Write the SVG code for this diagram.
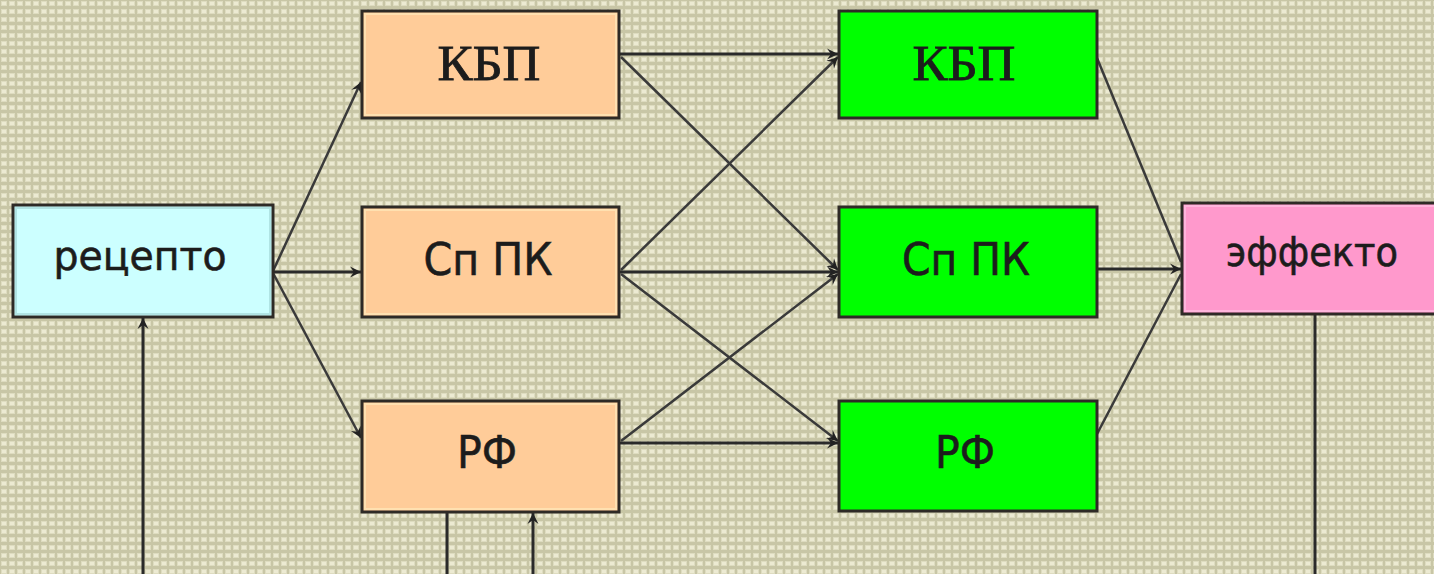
<svg xmlns="http://www.w3.org/2000/svg" width="1434" height="574" viewBox="0 0 1434 574">
<defs>
<pattern id="bg" width="8" height="8" patternUnits="userSpaceOnUse">
<rect width="8" height="8" fill="#c8c6a6"/>
<rect x="1" y="1" width="6" height="5" fill="#dedcc0"/>
<rect x="2" y="2" width="4" height="3" fill="#ecead2"/>
</pattern>
<marker id="arr" markerUnits="userSpaceOnUse" markerWidth="14" markerHeight="14" refX="12" refY="7" orient="auto">
<path d="M1,1.5 L12,7 L1,12.5 L5,7 Z" fill="#222"/>
</marker>
<style>
.box{stroke:#2e2a26;stroke-width:3}
.in{fill:none;stroke-width:2}
.ln{stroke:#2a2a2a;stroke-width:3;fill:none}
.dg{stroke:#3a3a3a;stroke-width:2.5;fill:none}
.sans{font-family:"DejaVu Sans","Liberation Sans",sans-serif;fill:#1c1c1c;stroke:#1c1c1c;stroke-width:0.6}
.serif{font-family:"Liberation Serif","DejaVu Serif",serif;fill:#1c1c1c;stroke:#1c1c1c;stroke-width:0.8}
</style>
</defs>
<rect width="1434" height="574" fill="url(#bg)"/>

<g id="connectors">
<line class="dg" x1="273" y1="271" x2="361" y2="82" marker-end="url(#arr)"/>
<line class="ln" x1="273" y1="272" x2="361" y2="272" marker-end="url(#arr)"/>
<line class="dg" x1="273" y1="273" x2="361" y2="438" marker-end="url(#arr)"/>

<line class="ln" x1="620" y1="54" x2="838" y2="54" marker-end="url(#arr)"/>
<line class="dg" x1="621" y1="57" x2="838" y2="270" marker-end="url(#arr)"/>
<line class="dg" x1="621" y1="270" x2="838" y2="57" marker-end="url(#arr)"/>
<line class="ln" x1="620" y1="272" x2="838" y2="272" marker-end="url(#arr)"/>
<line class="dg" x1="621" y1="274" x2="838" y2="441" marker-end="url(#arr)"/>
<line class="dg" x1="621" y1="441" x2="838" y2="274" marker-end="url(#arr)"/>
<line class="ln" x1="620" y1="443" x2="838" y2="443" marker-end="url(#arr)"/>

<line class="dg" x1="1097" y1="58" x2="1181" y2="262"/>
<line class="ln" x1="1097" y1="269" x2="1181" y2="269" marker-end="url(#arr)"/>
<line class="dg" x1="1097" y1="434" x2="1181" y2="274"/>

<line class="ln" x1="1315" y1="313" x2="1315" y2="574"/>
<line class="ln" x1="143" y1="574" x2="143" y2="318" marker-end="url(#arr)"/>
<line class="ln" x1="447" y1="512" x2="447" y2="574"/>
<line class="ln" x1="533" y1="574" x2="533" y2="513" marker-end="url(#arr)"/>
</g>

<g id="receptor">
<rect class="box" x="13" y="205" width="260" height="112" fill="#ccffff"/>
<rect class="in" x="16" y="208" width="254" height="106" stroke="#b0e4e4"/>
<text class="sans" x="140" y="270" font-size="40" text-anchor="middle" textLength="173" lengthAdjust="spacingAndGlyphs">рецепто</text>
</g>

<g id="kbp1">
<rect class="box" x="362" y="11" width="257" height="107" fill="#ffcc99"/>
<rect class="in" x="365" y="14" width="251" height="101" stroke="#ffe0b0"/>
<text class="serif" x="489" y="80" font-size="50" text-anchor="middle" textLength="103" lengthAdjust="spacingAndGlyphs">КБП</text>
</g>
<g id="sppk1">
<rect class="box" x="362" y="207" width="257" height="110" fill="#ffcc99"/>
<rect class="in" x="365" y="210" width="251" height="104" stroke="#ffe0b0"/>
<text class="sans" x="488" y="275" font-size="44" text-anchor="middle" textLength="129" lengthAdjust="spacingAndGlyphs">Сп ПК</text>
</g>
<g id="rf1">
<rect class="box" x="362" y="401" width="257" height="111" fill="#ffcc99"/>
<rect class="in" x="365" y="404" width="251" height="105" stroke="#ffe0b0"/>
<text class="sans" x="487" y="468" font-size="44" text-anchor="middle" textLength="60" lengthAdjust="spacingAndGlyphs">РФ</text>
</g>

<g id="kbp2">
<rect class="box" x="839" y="11" width="258" height="107" fill="#00ff00"/>
<text class="serif" x="964" y="80" font-size="50" text-anchor="middle" textLength="103" lengthAdjust="spacingAndGlyphs">КБП</text>
</g>
<g id="sppk2">
<rect class="box" x="839" y="207" width="258" height="110" fill="#00ff00"/>
<text class="sans" x="966" y="275" font-size="44" text-anchor="middle" textLength="128" lengthAdjust="spacingAndGlyphs">Сп ПК</text>
</g>
<g id="rf2">
<rect class="box" x="839" y="401" width="258" height="110" fill="#00ff00"/>
<text class="sans" x="965" y="468" font-size="44" text-anchor="middle" textLength="60" lengthAdjust="spacingAndGlyphs">РФ</text>
</g>

<g id="effector">
<rect class="box" x="1182" y="203" width="262" height="111" fill="#ff99cc"/>
<rect class="in" x="1185" y="206" width="256" height="105" stroke="#ffb4dc"/>
<text class="sans" x="1312" y="266" font-size="40" text-anchor="middle" textLength="172" lengthAdjust="spacingAndGlyphs">эффекто</text>
</g>
</svg>
